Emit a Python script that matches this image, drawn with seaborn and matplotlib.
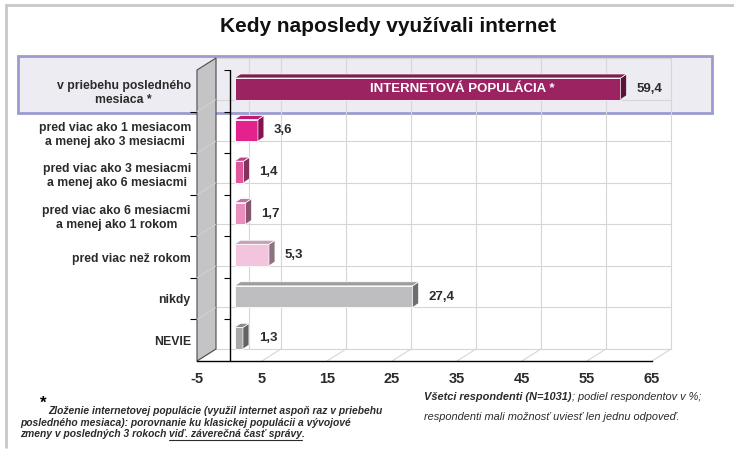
import matplotlib
matplotlib.use("Agg")
import matplotlib.pyplot as plt
import matplotlib.transforms as mtransforms
from matplotlib.colors import to_rgb
from matplotlib.lines import Line2D
from matplotlib.patches import Polygon, Rectangle
import numpy as np
import pandas as pd
import seaborn as sns

# ── Data ───────────────────────────────────────────────────────────────────────
categories = [
    "v priebehu posledného\nmesiaca *",
    "pred viac ako 1 mesiacom\na menej ako 3 mesiacmi",
    "pred viac ako 3 mesiacmi\na menej ako 6 mesiacmi",
    "pred viac ako 6 mesiacmi\na menej ako 1 rokom",
    "pred viac než rokom",
    "nikdy",
    "NEVIE",
]
values = [59.4, 3.6, 1.4, 1.7, 5.3, 27.4, 1.3]
bar_colors = ["#9B2362", "#E3228C", "#E0579D", "#EA90BF", "#F3C4DD", "#BEBEC0", "#A9A9AB"]
x_ticks = [-5, 5, 15, 25, 35, 45, 55, 65]
grid_x = [0, 5, 15, 25, 35, 45, 55, 65]

title = "Kedy naposledy využívali internet"
highlight_text = "INTERNETOVÁ POPULÁCIA *"

# ── Figure geometry (pixels of the 734x455 canvas) ─────────────────────────────
W, H = 734, 455
DX, DY = 19, 12          # depth of the back wall
BAR_SHIFT = (5, 2)       # bars sit a bit behind the front plane
BDX, BDY = 6, 4          # depth of each bar
TXT = "#2B2B2B"

sns.set_theme(style="white")
plt.rcParams["font.family"] = ["Liberation Sans", "DejaVu Sans"]

fig = plt.figure(figsize=(W / 100, H / 100), dpi=100)
ax = fig.add_axes([197 / W, 1 - 361 / H, (652 - 197) / W, (361 - 70) / H])
ax.patch.set_alpha(0)

df = pd.DataFrame({"kat": categories, "podiel": values})
sns.barplot(data=df, x="podiel", y="kat", hue="kat", palette=bar_colors,
            legend=False, width=0.52, orient="h", saturation=1,
            edgecolor="white", linewidth=0.6, ax=ax, zorder=3)
bars = sorted(ax.patches, key=lambda p: p.get_y())

ax.set_xlim(-5, 65)
ax.set_ylim(6.5, -0.5)
ax.set_xlabel("")
ax.set_ylabel("")
ax.set_xticks(x_ticks)
ax.set_xticklabels([str(t) for t in x_ticks], fontsize=10.5, fontweight="bold", color=TXT)
ax.tick_params(axis="x", length=5, width=1, color="black", direction="out", pad=3)

boundaries = np.arange(-0.5, len(categories), 1.0)
ax.set_yticks(boundaries[1:-1], minor=True)
ax.tick_params(axis="y", which="major", length=0, pad=4.5)
ax.tick_params(axis="y", which="minor", length=5, width=0.8, color="black", direction="out", left=True)
for lab in ax.get_yticklabels():
    lab.set_fontsize(8.8)
    lab.set_fontweight("bold")
    lab.set_color(TXT)
    lab.set_multialignment("center")

for side in ["top", "right", "left"]:
    ax.spines[side].set_visible(False)
ax.spines["bottom"].set_color("black")
ax.spines["bottom"].set_linewidth(1)

ident = mtransforms.IdentityTransform()
back = ax.transData + mtransforms.Affine2D().translate(DX, DY)
shift = ax.transData + mtransforms.Affine2D().translate(*BAR_SHIFT)

# ── Back wall grid ─────────────────────────────────────────────────────────────
for gx in grid_x:
    ax.plot([gx, gx], [-0.5, 6.5], transform=back, color="#D6D6D6", lw=0.8, zorder=0.5, clip_on=False)
for b in boundaries:
    ax.plot([-5, 65], [b, b], transform=back, color="#D6D6D6", lw=0.8, zorder=0.5, clip_on=False)

# floor diagonals
for t in x_ticks:
    p = ax.transData.transform((t, 6.5))
    ax.add_line(Line2D([p[0], p[0] + DX], [p[1], p[1] + DY], transform=ident,
                       color="#D6D6D6", lw=0.8, zorder=0.6, clip_on=False))

# left wall
p_top = ax.transData.transform((-5, -0.5))
p_bot = ax.transData.transform((-5, 6.5))
wall = Polygon([p_top, p_bot, p_bot + (DX, DY), p_top + (DX, DY)], closed=True, transform=ident,
               facecolor="#C4C4C6", edgecolor="#4A4A4A", lw=0.8, zorder=1, clip_on=False)
ax.add_patch(wall)
for b in boundaries[1:-1]:
    p = ax.transData.transform((-5, b))
    ax.add_line(Line2D([p[0], p[0] + DX], [p[1], p[1] + DY], transform=ident,
                       color="#D4D4D6", lw=0.6, zorder=1.1, clip_on=False))

# zero line with its little ticks
ax.plot([0, 0], [-0.5, 6.5], color="black", lw=1, zorder=2, clip_on=False)
ax.hlines(boundaries[:-1], -0.9, 0, color="black", lw=0.8, zorder=2)

# ── 3D bars ────────────────────────────────────────────────────────────────────
for patch, col in zip(bars, bar_colors):
    patch.set_transform(shift)
    bb = patch.get_window_extent()
    rgb = np.array(to_rgb(col))
    side = Polygon([(bb.x1, bb.y0), (bb.x1, bb.y1), (bb.x1 + BDX, bb.y1 + BDY), (bb.x1 + BDX, bb.y0 + BDY)],
                   closed=True, transform=ident, facecolor=rgb * 0.58, edgecolor="white", lw=0.5,
                   zorder=3.1, clip_on=False)
    top = Polygon([(bb.x0, bb.y1), (bb.x1, bb.y1), (bb.x1 + BDX, bb.y1 + BDY), (bb.x0 + BDX, bb.y1 + BDY)],
                  closed=True, transform=ident, facecolor=rgb * 0.82, edgecolor="white", lw=0.5,
                  zorder=3.1, clip_on=False)
    ax.add_patch(side)
    ax.add_patch(top)

label_tr = mtransforms.offset_copy(ax.transData, fig=fig, x=BAR_SHIFT[0] + BDX + 10, y=BAR_SHIFT[1], units="dots")
for i, v in enumerate(values):
    ax.text(v, i, f"{v:.1f}".replace(".", ","), transform=label_tr, ha="left", va="center",
            fontsize=9.5, fontweight="bold", color=TXT, zorder=4)

ax.text(35, 0, highlight_text, transform=shift, ha="center", va="center",
        fontsize=9.5, fontweight="bold", color="white", zorder=4)

# ── Page decoration ───────────────────────────────────────────────────────────
fig.add_artist(Rectangle((18 / W, 1 - 113 / H), (712 - 18) / W, (113 - 56) / H, transform=fig.transFigure,
                         facecolor="#ECECF2", edgecolor="#9C9CCF", lw=2, zorder=-1))
fig.add_artist(Line2D([6 / W, 1], [1 - 5 / H, 1 - 5 / H], transform=fig.transFigure, color="#C8C8C8", lw=2))
fig.add_artist(Line2D([6 / W, 6 / W], [1 - 5 / H, 1 - 447 / H], transform=fig.transFigure, color="#C8C8C8", lw=2))

fig.text(388 / W, 1 - 26 / H, title, ha="center", va="center", fontsize=15, fontweight="bold", color="#111111")

# ── Footnotes ──────────────────────────────────────────────────────────────────
renderer = fig.canvas.get_renderer()


def put_after(prev, text, **kw):
    bb = prev.get_window_extent(renderer)
    x = (bb.x1 + 2.5) / W
    return fig.text(x, prev.get_position()[1], text, **kw)


fs = 7.4
fig.text(40 / W, 1 - 403 / H, "*", fontsize=12, fontweight="bold", ha="left", va="center", color="black")
fig.text(48 / W, 1 - 411 / H, "Zloženie internetovej populácie (využil internet aspoň raz v priebehu",
         fontsize=fs, fontweight="bold", style="italic", ha="left", va="center", color=TXT)
fig.text(20 / W, 1 - 422.5 / H, "posledného mesiaca): porovnanie ku klasickej populácii a vývojové",
         fontsize=fs, fontweight="bold", style="italic", ha="left", va="center", color=TXT)
t3 = fig.text(20 / W, 1 - 434 / H, "zmeny v posledných 3 rokoch",
              fontsize=fs, fontweight="bold", style="italic", ha="left", va="center", color=TXT)
t4 = put_after(t3, "viď. záverečná časť správy", fontsize=fs, fontweight="bold", style="italic",
               ha="left", va="center", color=TXT)
b4 = t4.get_window_extent(renderer)
fig.add_artist(Line2D([b4.x0 / W, b4.x1 / W], [(b4.y0 - 0.5) / H] * 2, transform=fig.transFigure,
                      color=TXT, lw=0.8))
fig.text(b4.x1 / W, 1 - 434 / H, ".", fontsize=fs, fontweight="bold", style="italic",
         ha="left", va="center", color=TXT)

rfs = 7.9
r1 = fig.text(424 / W, 1 - 397 / H, "Všetci respondenti (N=1031)", fontsize=rfs, fontweight="bold",
              style="italic", ha="left", va="center", color=TXT)
bb1 = r1.get_window_extent(renderer)
fig.text(bb1.x1 / W, 1 - 397 / H, "; podiel respondentov v %;", fontsize=rfs, style="italic",
         ha="left", va="center", color=TXT)
fig.text(424 / W, 1 - 417 / H, "respondenti mali možnosť uviesť len jednu odpoveď.", fontsize=rfs,
         style="italic", ha="left", va="center", color=TXT)

fig.savefig("out.png", dpi=100)
